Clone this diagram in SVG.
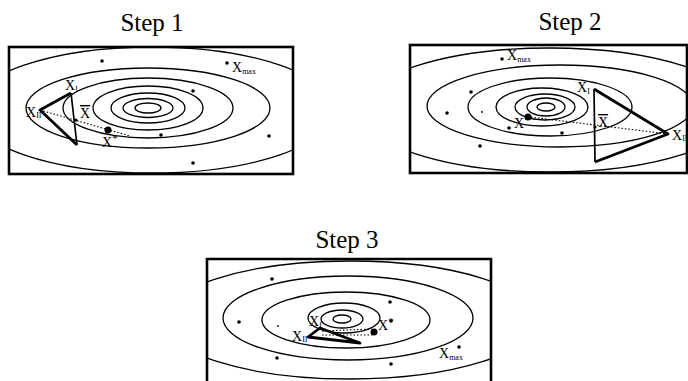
<svg xmlns="http://www.w3.org/2000/svg" width="688" height="381" viewBox="0 0 688 381">
<style>
.title{font-family:"Liberation Serif","Times New Roman",serif;font-size:25px;fill:#000}
.lbl{font-family:"Liberation Serif","Times New Roman",serif;font-size:14px;fill:#000}
.sub{font-size:8px;fill:#000}
.box{fill:none;stroke:#000;stroke-width:2.6}
.ring{fill:none;stroke:#000;stroke-width:1.3}
.thick{fill:none;stroke:#000;stroke-width:2.8;stroke-linejoin:round}
.med{fill:none;stroke:#000;stroke-width:1.7}
.dot{stroke:#000;stroke-width:1.1;stroke-dasharray:1.5 2;fill:none}
</style>
<defs>
<clipPath id="c1"><rect x="9" y="47" width="284" height="127"/></clipPath>
<clipPath id="c2"><rect x="410" y="45" width="277" height="128"/></clipPath>
<clipPath id="c3"><rect x="207" y="259" width="284" height="122"/></clipPath>
</defs>
<rect width="688" height="381" fill="#fff"/>

<g id="step1">
<text class="title" x="152" y="31" text-anchor="middle">Step 1</text>
<g clip-path="url(#c1)">
<ellipse class="ring" cx="152" cy="110" rx="182" ry="63"/>
<ellipse class="ring" cx="148" cy="108" rx="122" ry="40"/>
<ellipse class="ring" cx="148" cy="108" rx="85" ry="30"/>
<ellipse class="ring" cx="148" cy="108" rx="55" ry="22"/>
<ellipse class="ring" cx="148" cy="108" rx="37" ry="15"/>
<ellipse class="ring" cx="148" cy="108" rx="25" ry="9.5"/>
<ellipse class="ring" cx="148" cy="108" rx="13" ry="5"/>
</g>
<rect class="box" x="9" y="47" width="284" height="127"/>
<g fill="#000">
<circle cx="102" cy="61" r="1.8"/>
<circle cx="227" cy="63" r="1.8"/>
<circle cx="193" cy="91" r="1.8"/>
<circle cx="161" cy="135" r="1.8"/>
<circle cx="269" cy="136" r="1.8"/>
<circle cx="193" cy="163" r="1.8"/>
<circle cx="108" cy="130" r="3.5"/>
<circle cx="76" cy="120" r="1.5"/>
</g>
<g id="conn1">
<line class="dot" x1="40" y1="110" x2="130" y2="136"/>
<polyline class="thick" points="71,93 40,110 77,145"/>
<line class="med" x1="71" y1="93" x2="77" y2="145"/>
</g>
<text class="lbl" x="232" y="72">X<tspan class="sub" dy="2">max</tspan></text>
<text class="lbl" x="65" y="90">X<tspan class="sub" dy="2">I</tspan></text>
<text class="lbl" x="26" y="117">X<tspan class="sub" dy="1">II</tspan></text>
<text class="lbl" x="80" y="118" text-decoration="overline">X</text>
<text class="lbl" x="102" y="147">X<tspan dy="-5" font-size="11">*</tspan></text>
</g>

<g id="step2">
<text class="title" x="570" y="30" text-anchor="middle">Step 2</text>
<g clip-path="url(#c2)">
<ellipse class="ring" cx="550" cy="110" rx="190" ry="62"/>
<ellipse class="ring" cx="560" cy="106" rx="133" ry="41"/>
<ellipse class="ring" cx="550" cy="107" rx="82" ry="29"/>
<ellipse class="ring" cx="542" cy="107" rx="46" ry="19"/>
<ellipse class="ring" cx="545" cy="107" rx="30" ry="13"/>
<ellipse class="ring" cx="546" cy="107" rx="19" ry="9"/>
<ellipse class="ring" cx="546" cy="107" rx="9" ry="4"/>
</g>
<rect class="box" x="410" y="45" width="277" height="128"/>
<g fill="#000">
<circle cx="502" cy="59" r="1.8"/>
<circle cx="471" cy="92" r="1.8"/>
<circle cx="447" cy="113" r="1.8"/>
<circle cx="482" cy="112" r="0.9"/>
<circle cx="509" cy="128" r="1.8"/>
<circle cx="562" cy="133" r="1.8"/>
<circle cx="480" cy="146" r="1.8"/>
<circle cx="528" cy="117" r="3.5"/>
<circle cx="595" cy="127" r="1.5"/>
</g>
<g id="conn2">
<line class="dot" x1="668" y1="134" x2="530" y2="117"/>
<polyline class="thick" points="594,89 668,134 595,162"/>
<line class="med" x1="594" y1="89" x2="595" y2="162"/>
</g>
<text class="lbl" x="507" y="60">X<tspan class="sub" dy="2">max</tspan></text>
<text class="lbl" x="577" y="92">X<tspan class="sub" dy="2">I</tspan></text>
<text class="lbl" x="672" y="140">X<tspan class="sub" dy="1">II</tspan></text>
<text class="lbl" x="598" y="127" text-decoration="overline">X</text>
<text class="lbl" x="514" y="128">X<tspan dy="-5" font-size="11">*</tspan></text>
</g>

<g id="step3">
<text class="title" x="347" y="248" text-anchor="middle">Step 3</text>
<g clip-path="url(#c3)">
<ellipse class="ring" cx="350" cy="320" rx="187" ry="59"/>
<ellipse class="ring" cx="348" cy="318" rx="125" ry="42"/>
<ellipse class="ring" cx="346" cy="320" rx="84" ry="28"/>
<ellipse class="ring" cx="344" cy="318" rx="36" ry="15"/>
<ellipse class="ring" cx="342" cy="319" rx="21" ry="9"/>
<ellipse class="ring" cx="342" cy="319" rx="9" ry="4"/>
</g>
<path class="box" d="M207,381 V259 H491 V381"/>
<g fill="#000">
<circle cx="272" cy="279" r="1.8"/>
<circle cx="390" cy="302" r="1.8"/>
<circle cx="239" cy="322" r="1.8"/>
<circle cx="278" cy="326" r="0.9"/>
<circle cx="391" cy="321" r="1.8"/>
<circle cx="459" cy="347" r="1.8"/>
<circle cx="277" cy="358" r="1.8"/>
<circle cx="391" cy="364" r="1.8"/>
<circle cx="374" cy="332" r="3.5"/>
</g>
<g id="conn3">
<line class="dot" x1="322" y1="331" x2="372" y2="329"/>
<line class="dot" x1="322" y1="335" x2="372" y2="335"/>
<polygon class="thick" points="320,328 308,337 360,343"/>
</g>
<text class="lbl" x="309" y="326">X<tspan class="sub" dy="2">I</tspan></text>
<text class="lbl" x="292" y="341">X<tspan class="sub" dy="1">II</tspan></text>
<text class="lbl" x="378" y="330">X<tspan dy="-5" font-size="11">*</tspan></text>
<text class="lbl" x="439" y="358">X<tspan class="sub" dy="2">max</tspan></text>
</g>
</svg>
